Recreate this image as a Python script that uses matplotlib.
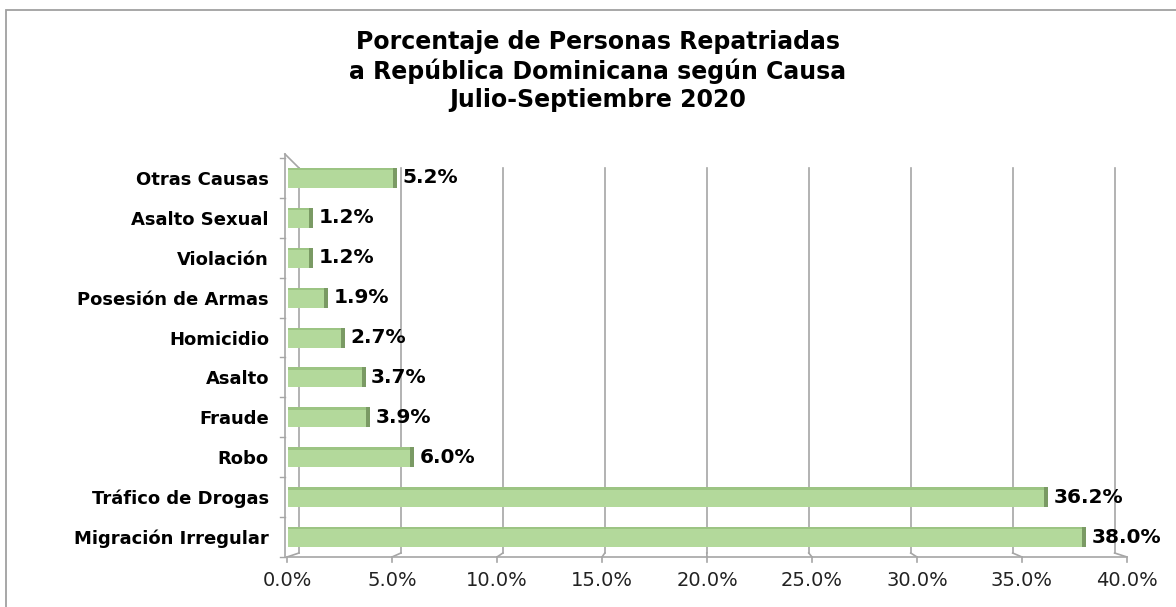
import numpy as np
import matplotlib.pyplot as plt
from matplotlib.patches import Rectangle

# Data (bottom to top)
causas = ['Migración Irregular', 'Tráfico de Drogas', 'Robo', 'Fraude', 'Asalto',
          'Homicidio', 'Posesión de Armas', 'Violación', 'Asalto Sexual', 'Otras Causas']
valores = [38.0, 36.2, 6.0, 3.9, 3.7, 2.7, 1.9, 1.2, 1.2, 5.2]
ticks = np.arange(0, 45, 5)
tick_labels = ['%.1f%%' % t for t in ticks]

titulo = ('Porcentaje de Personas Repatriadas\n'
          'a República Dominicana según Causa\n'
          'Julio-Septiembre 2020')

W, H = 1176, 607
fig = plt.figure(figsize=(W / 100, H / 100), dpi=100)

# outer chart border (top and left visible)
fig.patches.append(Rectangle((6 / W, -0.1), 1.2, (H - 10) / H + 0.1,
                             transform=fig.transFigure, fill=False,
                             edgecolor='#a0a0a0', linewidth=1.3))

ax = fig.add_axes([287 / W, 50 / H, 840 / W, 399 / H])
ax.set_xlim(0, 40)
ax.set_ylim(-0.5, len(causas) - 0.5)
for s in ax.spines.values():
    s.set_visible(False)

grid_c = '#a6a6a6'
# back wall: slightly shifted / narrower than the front axis
bx0, bscale = 0.57, 0.971
yb_bot, yb_top = -0.4, 9.25
for t in ticks:
    xb = bx0 + bscale * t
    ax.plot([xb, xb], [yb_bot, yb_top], color=grid_c, lw=1.2, zorder=1)
    ax.plot([xb, t], [yb_bot, -0.5], color=grid_c, lw=1.2, zorder=1)
    ax.plot([t, t], [-0.5, -0.62], color=grid_c, lw=1.2, zorder=1, clip_on=False)
# floor front edge
ax.plot([0, 40], [-0.5, -0.5], color=grid_c, lw=1.2, zorder=1, clip_on=False)
# left wall
ax.plot([-0.1, -0.1], [-0.5, 9.6], color=grid_c, lw=1.2, zorder=1, clip_on=False)
ax.plot([-0.1, bx0], [9.6, yb_top], color=grid_c, lw=1.2, zorder=1, clip_on=False)
for k in range(len(causas) + 1):
    yk = k - 0.5
    ax.plot([-0.35, -0.1], [yk, yk], color=grid_c, lw=1.0, zorder=1, clip_on=False)

# bars with a darker side face
y = np.arange(len(causas))
h = 0.5
ax.barh(y, valores, height=h, left=0.05, color='#b3d99b', edgecolor='none', zorder=3)
ax.barh(y + h / 2 - 0.03, valores, height=0.06, left=0.05, color='#9cc483',
        edgecolor='none', zorder=4)
ax.barh(y, 0.2, height=h, left=np.array(valores) + 0.05 - 0.2, color='#7a9a64',
        edgecolor='none', zorder=4)

for yi, v in zip(y, valores):
    ax.text(v + 0.3, yi, '%.1f%%' % v, ha='left', va='center', fontsize=14.5,
            fontweight='bold', color='black', zorder=5)

ax.set_yticks(y)
ax.set_yticklabels(causas, fontsize=13, fontweight='bold')
ax.tick_params(axis='y', length=0, pad=13)
ax.set_xticks(ticks)
ax.set_xticklabels(tick_labels, fontsize=14, color='#222222')
ax.tick_params(axis='x', length=0, pad=10)

fig.text(598 / W, 1 - 71 / H, titulo, ha='center', va='center', fontsize=17,
         fontweight='bold', linespacing=1.2)

fig.savefig('out.png', dpi=100)
